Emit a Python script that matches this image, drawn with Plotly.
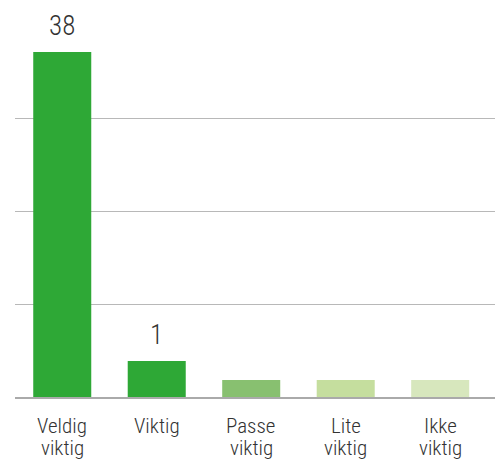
import numpy as np
import plotly.graph_objects as go

categories = ["Veldig<br>viktig", "Viktig", "Passe<br>viktig", "Lite<br>viktig", "Ikke<br>viktig"]
values = [38, 1, 0, 0, 0]
bar_colors = ["#2ea836", "#2ea836", "#88c070", "#c5de9e", "#d7e7bd"]

# display scale of the original chart (compressed power scale with a minimum stub)
POWER = 0.783
STUB = 0.895
vals = np.array(values, dtype=float)
y_disp = STUB + vals ** POWER

FONT = "Roboto Condensed, Liberation Sans, sans-serif"
TXT = "#333333"
x_idx = list(range(len(categories)))
GRID = 93 / 19

fig = go.Figure(go.Bar(
    x=x_idx, y=y_disp, marker=dict(color=bar_colors, line=dict(width=0)),
    width=0.614, hoverinfo="skip",
))

# value labels above bars
for i, (v, yd) in enumerate(zip(values, y_disp)):
    if v > 0:
        fig.add_annotation(x=i, y=yd, text=str(v), showarrow=False,
                           yanchor="bottom", yshift=8,
                           font=dict(family=FONT, size=27, color=TXT, weight=300))

# category labels (tight line spacing like the original)
for i, cat in enumerate(categories):
    for j, line in enumerate(cat.split("<br>")):
        fig.add_annotation(x=i, xref="x", y=0, yref="paper", text=line,
                           showarrow=False, yanchor="top", yshift=-15 - 22 * j,
                           font=dict(family=FONT, size=21, color=TXT, weight=300))

fig.update_layout(
    width=495, height=462,
    margin=dict(l=15, r=0, t=40, b=65, autoexpand=False),
    plot_bgcolor="white", paper_bgcolor="white",
    showlegend=False,
    font=dict(family=FONT, size=19, color=TXT, weight=300),
    xaxis=dict(tickvals=x_idx, showticklabels=False,
               range=[-0.5, 4.58], showgrid=False, zeroline=False, automargin=False,
               showline=True, linecolor="#aaaaaa", linewidth=2, ticks=""),
    yaxis=dict(range=[0, 357 / 19], dtick=GRID, tick0=0, automargin=False,
               showticklabels=False, showgrid=True, gridcolor="#b8b8b8",
               gridwidth=1, zeroline=False, showline=False),
)

fig.write_html("out.html", config={"displayModeBar": False},
               post_script="document.body.style.margin='0';")
